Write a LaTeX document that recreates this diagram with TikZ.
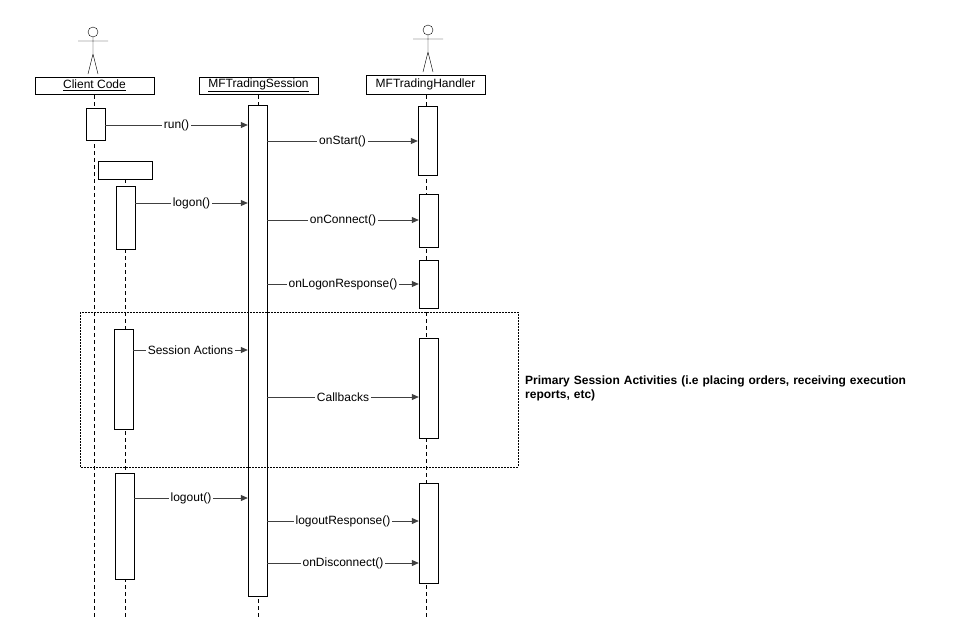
\documentclass[tikz,border=0pt]{standalone}
\usepackage{fontspec}
\setmainfont{Liberation Sans}
\usetikzlibrary{arrows.meta,positioning}
\tikzset{
  lifeline/.style={draw,dashed,dash pattern=on 4pt off 3pt},
  header/.style={rectangle,draw,thick,inner sep=0pt},
  act/.style={rectangle,draw,fill=white,inner sep=0pt},
  msg/.style={draw,-{Triangle[length=7pt,width=6pt]},line width=0.8pt,black!75},
  lbl/.style={fill=white,inner sep=2pt,text=black,font=\fontsize{12}{14}\selectfont}
}
\newcommand{\actor}[2]{%
  \draw (#1,#2) circle (5);
  \draw (#1,#2+5) -- (#1,#2+22) (#1-15,#2+9) -- (#1+15,#2+9)
        (#1-5,#2+42) -- (#1,#2+22) -- (#1+5,#2+42);}
\begin{document}
\begin{tikzpicture}[x=1pt,y=-1pt]
  \useasboundingbox (0,0) rectangle (977,638);
  % lifelines
  \draw [lifeline] (94,95) -- (94,617);
  \draw [lifeline] (125,179) -- (125,617);
  \draw [lifeline] (258,95) -- (258,617);
  \draw [lifeline] (426,95) -- (426,617);
  % actors
  \actor{93}{32}
  \actor{428}{30}
  % headers
  \node [header,minimum width=119,minimum height=17] (cc) at (94.5,85.5)
    {\fontsize{12}{14}\selectfont\underline{Client Code}};
  \node [header,minimum width=119,minimum height=17] (ms) at (258.5,85.5)
    {\fontsize{12}{14}\selectfont\underline{MFTradingSession}};
  \node [header,minimum width=119,minimum height=19] (mh) at (425.5,84.5)
    {\fontsize{12}{14}\selectfont MFTradingHandler};
  \node [header,minimum width=54,minimum height=18] (sub) at (125,170) {};
  % activations
  \node [act,minimum width=19,minimum height=32] (c1) at (95.5,124) {};
  \node [act,minimum width=19,minimum height=63] (c2) at (125.5,217.5) {};
  \node [act,minimum width=19,minimum height=100] (c3) at (123.5,379) {};
  \node [act,minimum width=19,minimum height=106] (c4) at (124.5,526) {};
  \node [act,minimum width=19,minimum height=491] (s1) at (257.5,350.5) {};
  \node [act,minimum width=19,minimum height=69] (h1) at (427.5,140.5) {};
  \node [act,minimum width=19,minimum height=53] (h2) at (428.5,220.5) {};
  \node [act,minimum width=19,minimum height=48] (h3) at (428.5,284) {};
  \node [act,minimum width=19,minimum height=100] (h4) at (428.5,388) {};
  \node [act,minimum width=19,minimum height=100] (h5) at (428.5,533) {};
  % frame
  \draw [dash pattern=on 2pt off 1pt] (80,312) rectangle (518,467);
  \node [anchor=north west,align=left,text width=400,inner sep=0pt,
    font=\bfseries\fontsize{12}{14}\selectfont] (note) at (525,376)
    {Primary Session Activities (i.e placing orders, receiving execution reports, etc)};
  % messages
  \draw [msg] (c1.east |- 0,125) -- node [lbl] {run()} (s1.west |- 0,125);
  \draw [msg] (s1.east |- 0,141) -- node [lbl] {onStart()} (h1.west |- 0,141);
  \draw [msg] (c2.east |- 0,203) -- node [lbl] {logon()} (s1.west |- 0,203);
  \draw [msg] (s1.east |- 0,220) -- node [lbl] {onConnect()} (h2.west |- 0,220);
  \draw [msg] (s1.east |- 0,284) -- node [lbl] {onLogonResponse()} (h3.west |- 0,284);
  \draw [msg] (c3.east |- 0,350) -- node [lbl] {Session Actions} (s1.west |- 0,350);
  \draw [msg] (s1.east |- 0,397) -- node [lbl] {Callbacks} (h4.west |- 0,397);
  \draw [msg] (c4.east |- 0,498) -- node [lbl] {logout()} (s1.west |- 0,498);
  \draw [msg] (s1.east |- 0,521) -- node [lbl] {logoutResponse()} (h5.west |- 0,521);
  \draw [msg] (s1.east |- 0,563) -- node [lbl] {onDisconnect()} (h5.west |- 0,563);
\end{tikzpicture}
\end{document}
